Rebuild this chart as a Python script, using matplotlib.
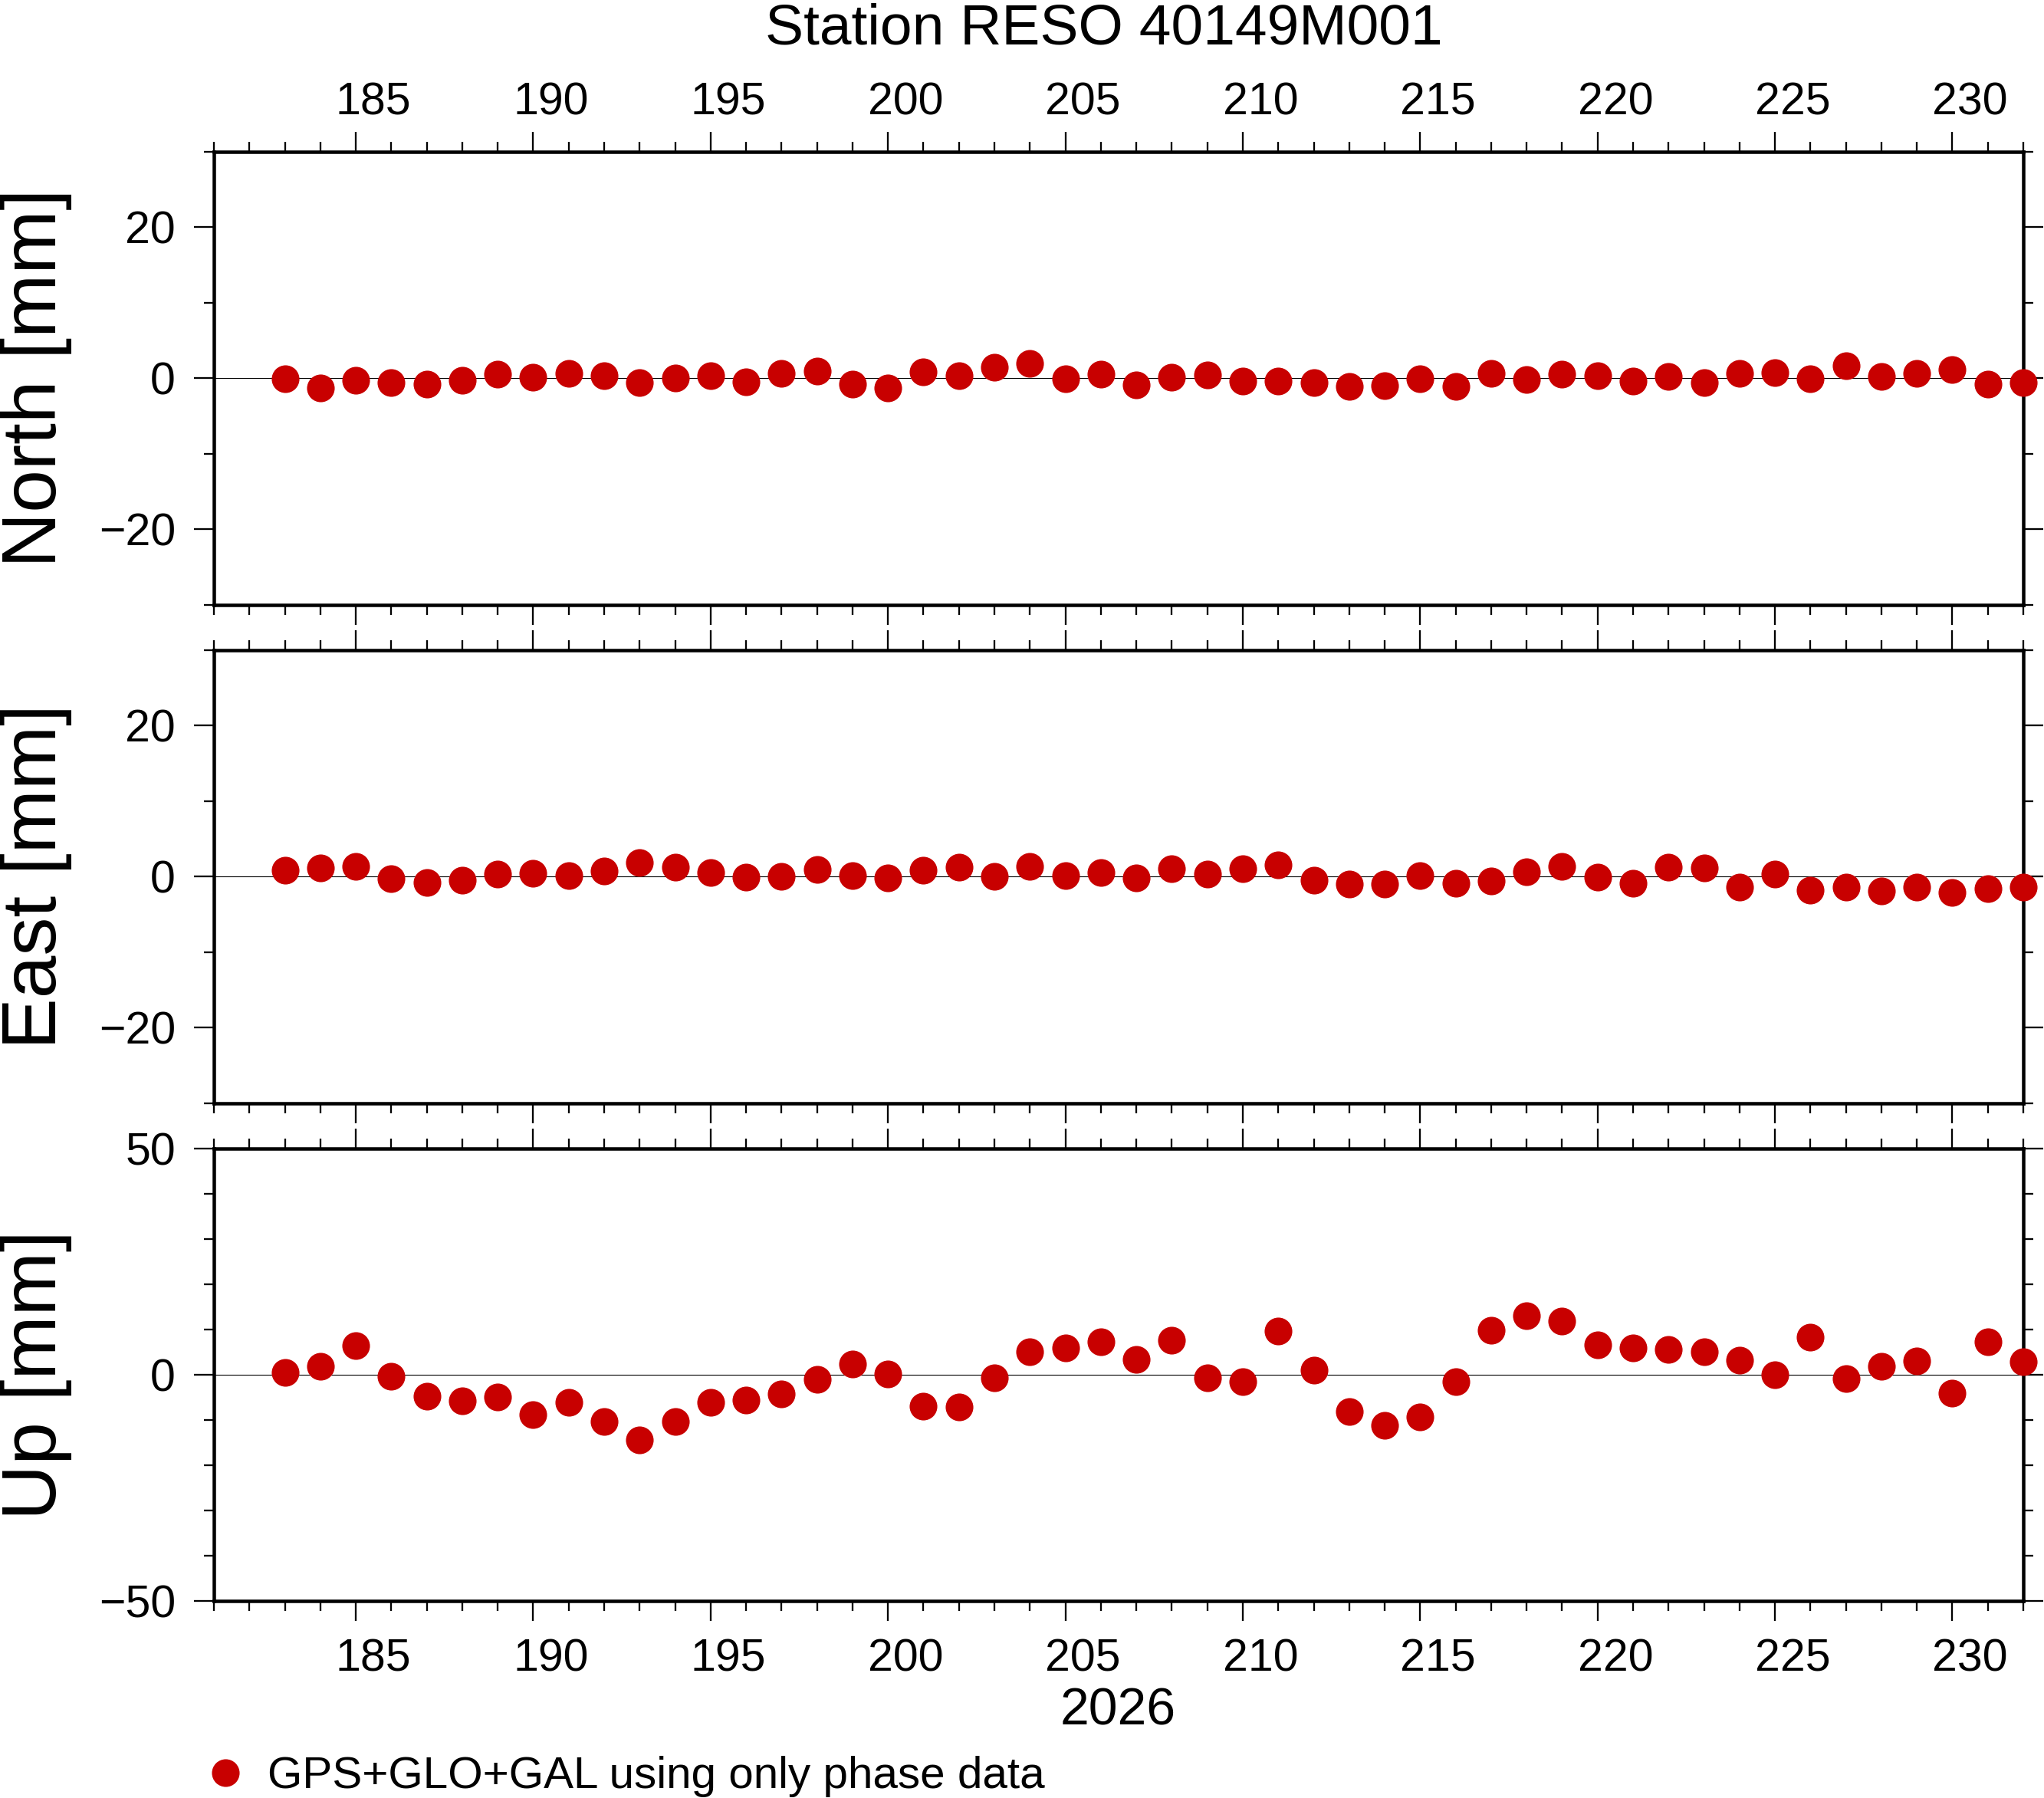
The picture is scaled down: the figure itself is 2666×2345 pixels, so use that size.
#!/usr/bin/env python3
# -*- coding: utf-8 -*-
"""Daily station coordinate residuals (North / East / Up) for RESO 40149M001."""

import matplotlib
matplotlib.use("Agg")
import matplotlib.pyplot as plt
from matplotlib.ticker import MultipleLocator
from matplotlib.transforms import ScaledTranslation

plt.rcParams["font.family"] = ["Liberation Sans", "DejaVu Sans"]

# ---- data ----
doy = [183, 184, 185, 186, 187, 188, 189, 190, 191, 192,
       193, 194, 195, 196, 197, 198, 199, 200, 201, 202,
       203, 204, 205, 206, 207, 208, 209, 210, 211, 212,
       213, 214, 215, 216, 217, 218, 219, 220, 221, 222,
       223, 224, 225, 226, 227, 228, 229, 230, 231, 232]

north = [-0.1, -1.3, -0.3, -0.6, -0.8, -0.3, 0.5, 0.1, 0.6, 0.3,
         -0.6, 0.0, 0.3, -0.5, 0.6, 0.9, -0.8, -1.3, 0.8, 0.3,
         1.5, 2.0, -0.1, 0.5, -0.9, 0.1, 0.4, -0.4, -0.4, -0.6,
         -1.1, -1.0, -0.1, -1.1, 0.6, -0.2, 0.5, 0.3, -0.4, 0.2,
         -0.6, 0.6, 0.7, -0.1, 1.7, 0.2, 0.6, 1.1, -0.8, -0.6]

east = [0.8, 1.1, 1.4, -0.3, -0.8, -0.5, 0.3, 0.4, 0.1, 0.7,
        1.9, 1.2, 0.5, -0.1, 0.0, 0.9, 0.1, -0.2, 0.8, 1.2,
        0.0, 1.4, 0.1, 0.5, -0.2, 1.0, 0.3, 1.0, 1.6, -0.5,
        -1.0, -1.0, 0.1, -0.9, -0.6, 0.6, 1.3, -0.1, -0.9, 1.2,
        1.1, -1.4, 0.3, -1.8, -1.4, -1.9, -1.4, -2.1, -1.6, -1.4]

up = [0.5, 1.9, 6.5, -0.3, -4.7, -5.7, -4.9, -8.8, -6.0, -10.3,
      -14.4, -10.3, -6.0, -5.6, -4.2, -1.0, 2.4, 0.3, -6.9, -7.1,
      -0.7, 5.1, 6.0, 7.3, 3.4, 7.7, -0.7, -1.4, 9.7, 1.0,
      -8.0, -11.2, -9.3, -1.5, 9.8, 13.1, 12.0, 6.6, 5.9, 5.6,
      5.1, 3.2, 0.0, 8.3, -0.85, 2.0, 3.05, -4.1, 7.3, 2.9]

components = ["North", "East", "Up"]
series = [north, east, up]
ylims = [(-30, 30), (-30, 30), (-50, 50)]
ymajor = [20, 20, 50]

title = "Station RESO 40149M001"
year_label = "2026"
legend_label = "GPS+GLO+GAL using only phase data"

RED = "#c80000"
W, H = 2666, 2345
DPI = 100
XMIN, XMAX = 181, 232

fig = plt.figure(figsize=(W / DPI, H / DPI), dpi=DPI)

# axes boxes in pixels measured from the top: (top, bottom)
left_px, right_px = 279, 2639
rows_px = [(197.9, 788.7), (847.8, 1438.8), (1498.3, 2088.3)]

# day labels sit in the middle of the day interval (half a day to the right)
half_day_in = (right_px - left_px) / (XMAX - XMIN) * 0.5 / DPI
shift = ScaledTranslation(half_day_in, 0, fig.dpi_scale_trans)

for i, (name, vals, ylim, ymaj) in enumerate(zip(components, series, ylims, ymajor)):
    top_px, bot_px = rows_px[i]
    ax = fig.add_axes([left_px / W, 1 - bot_px / H,
                       (right_px - left_px) / W, (bot_px - top_px) / H])
    ax.axhline(0, color="black", lw=0.8, zorder=1)
    ax.plot(doy, vals, "o", ms=26, color=RED, mec="none",
            clip_on=False, zorder=4)

    ax.set_xlim(XMIN, XMAX)
    ax.set_ylim(*ylim)
    ax.xaxis.set_major_locator(MultipleLocator(5))
    ax.xaxis.set_minor_locator(MultipleLocator(1))
    ax.yaxis.set_major_locator(MultipleLocator(ymaj))
    ax.yaxis.set_minor_locator(MultipleLocator(10))

    for s in ax.spines.values():
        s.set_linewidth(3.25)

    ax.tick_params(which="both", direction="out", top=True, bottom=True,
                   left=True, right=True, width=1.65, labelsize=42.5,
                   labeltop=(i == 0), labelbottom=(i == 2),
                   labelleft=True, labelright=False)
    ax.tick_params(which="major", length=19)
    ax.tick_params(which="minor", length=9.5)
    ax.tick_params(axis="y", which="major", pad=17)
    ax.tick_params(axis="x", which="major", pad=16)
    for t in ax.xaxis.get_major_ticks():
        if i == 0:
            t.set_pad(7)
        for lab in (t.label1, t.label2):
            lab.set_transform(lab.get_transform() + shift)

    # y label: baseline placed at a fixed x, centred on the panel
    fig.text(73 / W, 1 - (top_px + bot_px) / 2 / H, f"{name} [mm]",
             rotation=90, rotation_mode="anchor", ha="center", va="baseline",
             fontsize=72)

    if i == 2:
        handle, = ax.plot([], [], "o", ms=26, color=RED, mec="none")

fig.text(1440 / W, 1 - 57 / H, title, ha="center", va="baseline", fontsize=54)
fig.text(1458 / W, 1 - 2250 / H, year_label, ha="center", va="baseline", fontsize=49)

fig.legend([handle], [legend_label], loc="lower left",
           bbox_to_anchor=(277 / W, 1 / H), frameon=False, fontsize=42,
           handlelength=0.59, handletextpad=0.65, borderpad=0,
           borderaxespad=0)

fig.savefig("out.png", dpi=DPI)
print("[INFO] saved: out.png")
